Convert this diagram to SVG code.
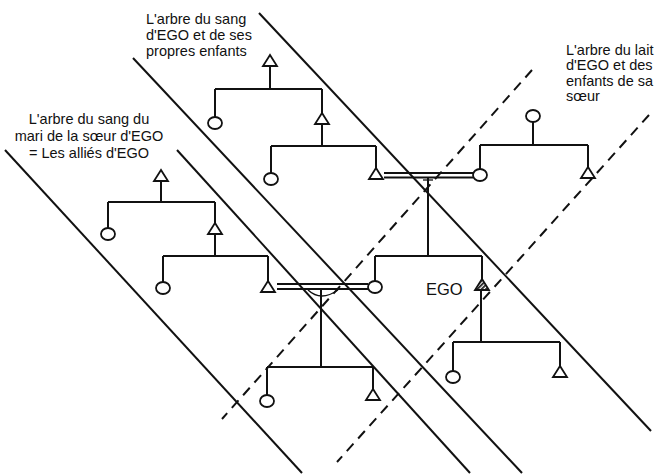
<svg xmlns="http://www.w3.org/2000/svg" xmlns:xlink="http://www.w3.org/1999/xlink" width="660" height="475" viewBox="0 0 660 475">
<style>
.bg{fill:#ffffff}
.band{stroke:#111;stroke-width:2;fill:none}
.dash{stroke:#111;stroke-width:2;fill:none;stroke-dasharray:10 7}
.link{stroke:#111;stroke-width:2;fill:none}
.thin{stroke:#111;stroke-width:1.3;fill:none}
.m{fill:#fff;stroke:#111;stroke-width:1.8}
.f{fill:#fff;stroke:#111;stroke-width:1.8}
.ego{fill:url(#hatch);stroke:#111;stroke-width:1.8}
.lbl{font-family:"Liberation Sans",Arial,sans-serif;font-size:14.5px;fill:#111}
.egot{font-family:"Liberation Sans",Arial,sans-serif;font-size:16.5px;fill:#111}
</style>
<defs>
<path id="tri" d="M0,0 L-7,11 L7,11 Z"/>
<pattern id="hatch" width="3" height="3" patternUnits="userSpaceOnUse" patternTransform="rotate(45)">
<rect width="3" height="3" fill="#fff"/>
<rect width="1.8" height="3" fill="#222"/>
</pattern>
</defs>
<rect class="bg" width="660" height="475"/>

<g id="bands">
<line class="band" x1="259" y1="13" x2="651" y2="431"/>
<line class="band" x1="133" y1="58" x2="522" y2="473"/>
<line class="band" x1="177" y1="150" x2="470" y2="473"/>
<line class="band" x1="5" y1="150" x2="302" y2="473"/>
<line class="dash" x1="532" y1="70" x2="222" y2="419"/>
<line class="dash" x1="649" y1="115" x2="337" y2="462"/>
</g>

<g id="connectors">
<path class="link" d="M270,66 V89 M215,89 H322 M215,89 V117 M322,89 V113"/>
<path class="link" d="M322,124 V146 M271,146 H376 M271,146 V173 M376,146 V168"/>
<path class="link" d="M384,173 H473 M384,177.5 H473"/>
<path class="thin" d="M423,180 H433"/>
<path class="link" d="M428,178 V256 M375,256 H482 M375,256 V281 M482,256 V279"/>
<path class="link" d="M533,122 V145 M480,145 H588 M480,145 V169 M588,145 V167"/>
<path class="link" d="M481,290 V342 M453,342 H560 M453,342 V371 M560,342 V366"/>
<path class="link" d="M161,181 V202 M108,202 H215 M108,202 V228 M215,202 V223"/>
<path class="link" d="M215,234 V256 M163,256 H268 M163,256 V282 M268,256 V281"/>
<path class="link" d="M277,284 H368 M277,289 H368"/>
<path class="thin" d="M308,290 Q321,302 338,290"/>
<path class="link" d="M321,289 V367 M267,367 H373 M267,367 V395 M373,367 V389"/>
</g>

<g id="n1"><use xlink:href="#tri" class="m" x="270" y="55"/></g>
<g id="n2"><ellipse class="f" cx="215" cy="123" rx="7" ry="6"/></g>
<g id="n3"><use xlink:href="#tri" class="m" x="322" y="113"/></g>
<g id="n4"><ellipse class="f" cx="271" cy="179" rx="7" ry="6"/></g>
<g id="n5"><use xlink:href="#tri" class="m" x="376" y="168"/></g>
<g id="n6"><ellipse class="f" cx="480" cy="175" rx="7" ry="6"/></g>
<g id="n7"><use xlink:href="#tri" class="m" x="588" y="167"/></g>
<g id="n8"><ellipse class="f" cx="533" cy="116" rx="7" ry="6"/></g>
<g id="n9"><ellipse class="f" cx="375" cy="287" rx="7" ry="6"/></g>
<g id="ego"><use xlink:href="#tri" class="ego" x="482" y="279"/><text class="egot" x="426" y="295">EGO</text></g>
<g id="n11"><ellipse class="f" cx="453" cy="377" rx="7" ry="6"/></g>
<g id="n12"><use xlink:href="#tri" class="m" x="560" y="366"/></g>
<g id="a1"><use xlink:href="#tri" class="m" x="161" y="170"/></g>
<g id="a2"><ellipse class="f" cx="108" cy="234" rx="7" ry="6"/></g>
<g id="a3"><use xlink:href="#tri" class="m" x="215" y="223"/></g>
<g id="a4"><ellipse class="f" cx="163" cy="288" rx="7" ry="6"/></g>
<g id="a5"><use xlink:href="#tri" class="m" x="268" y="281"/></g>
<g id="c1"><ellipse class="f" cx="267" cy="401" rx="7" ry="6"/></g>
<g id="c2"><use xlink:href="#tri" class="m" x="373" y="389"/></g>

<g id="label-sang">
<text class="lbl" x="146" y="24">L'arbre du sang</text>
<text class="lbl" x="146" y="40">d'EGO et de ses</text>
<text class="lbl" x="146" y="56">propres enfants</text>
</g>
<g id="label-lait">
<text class="lbl" x="566" y="55">L'arbre du lait</text>
<text class="lbl" x="566" y="70">d'EGO et des</text>
<text class="lbl" x="566" y="86">enfants de sa</text>
<text class="lbl" x="566" y="101">sœur</text>
</g>
<g id="label-allies" text-anchor="middle">
<text class="lbl" x="89" y="124">L'arbre du sang du</text>
<text class="lbl" x="89" y="141">mari de la sœur d'EGO</text>
<text class="lbl" x="89" y="158">= Les alliés d'EGO</text>
</g>
</svg>
